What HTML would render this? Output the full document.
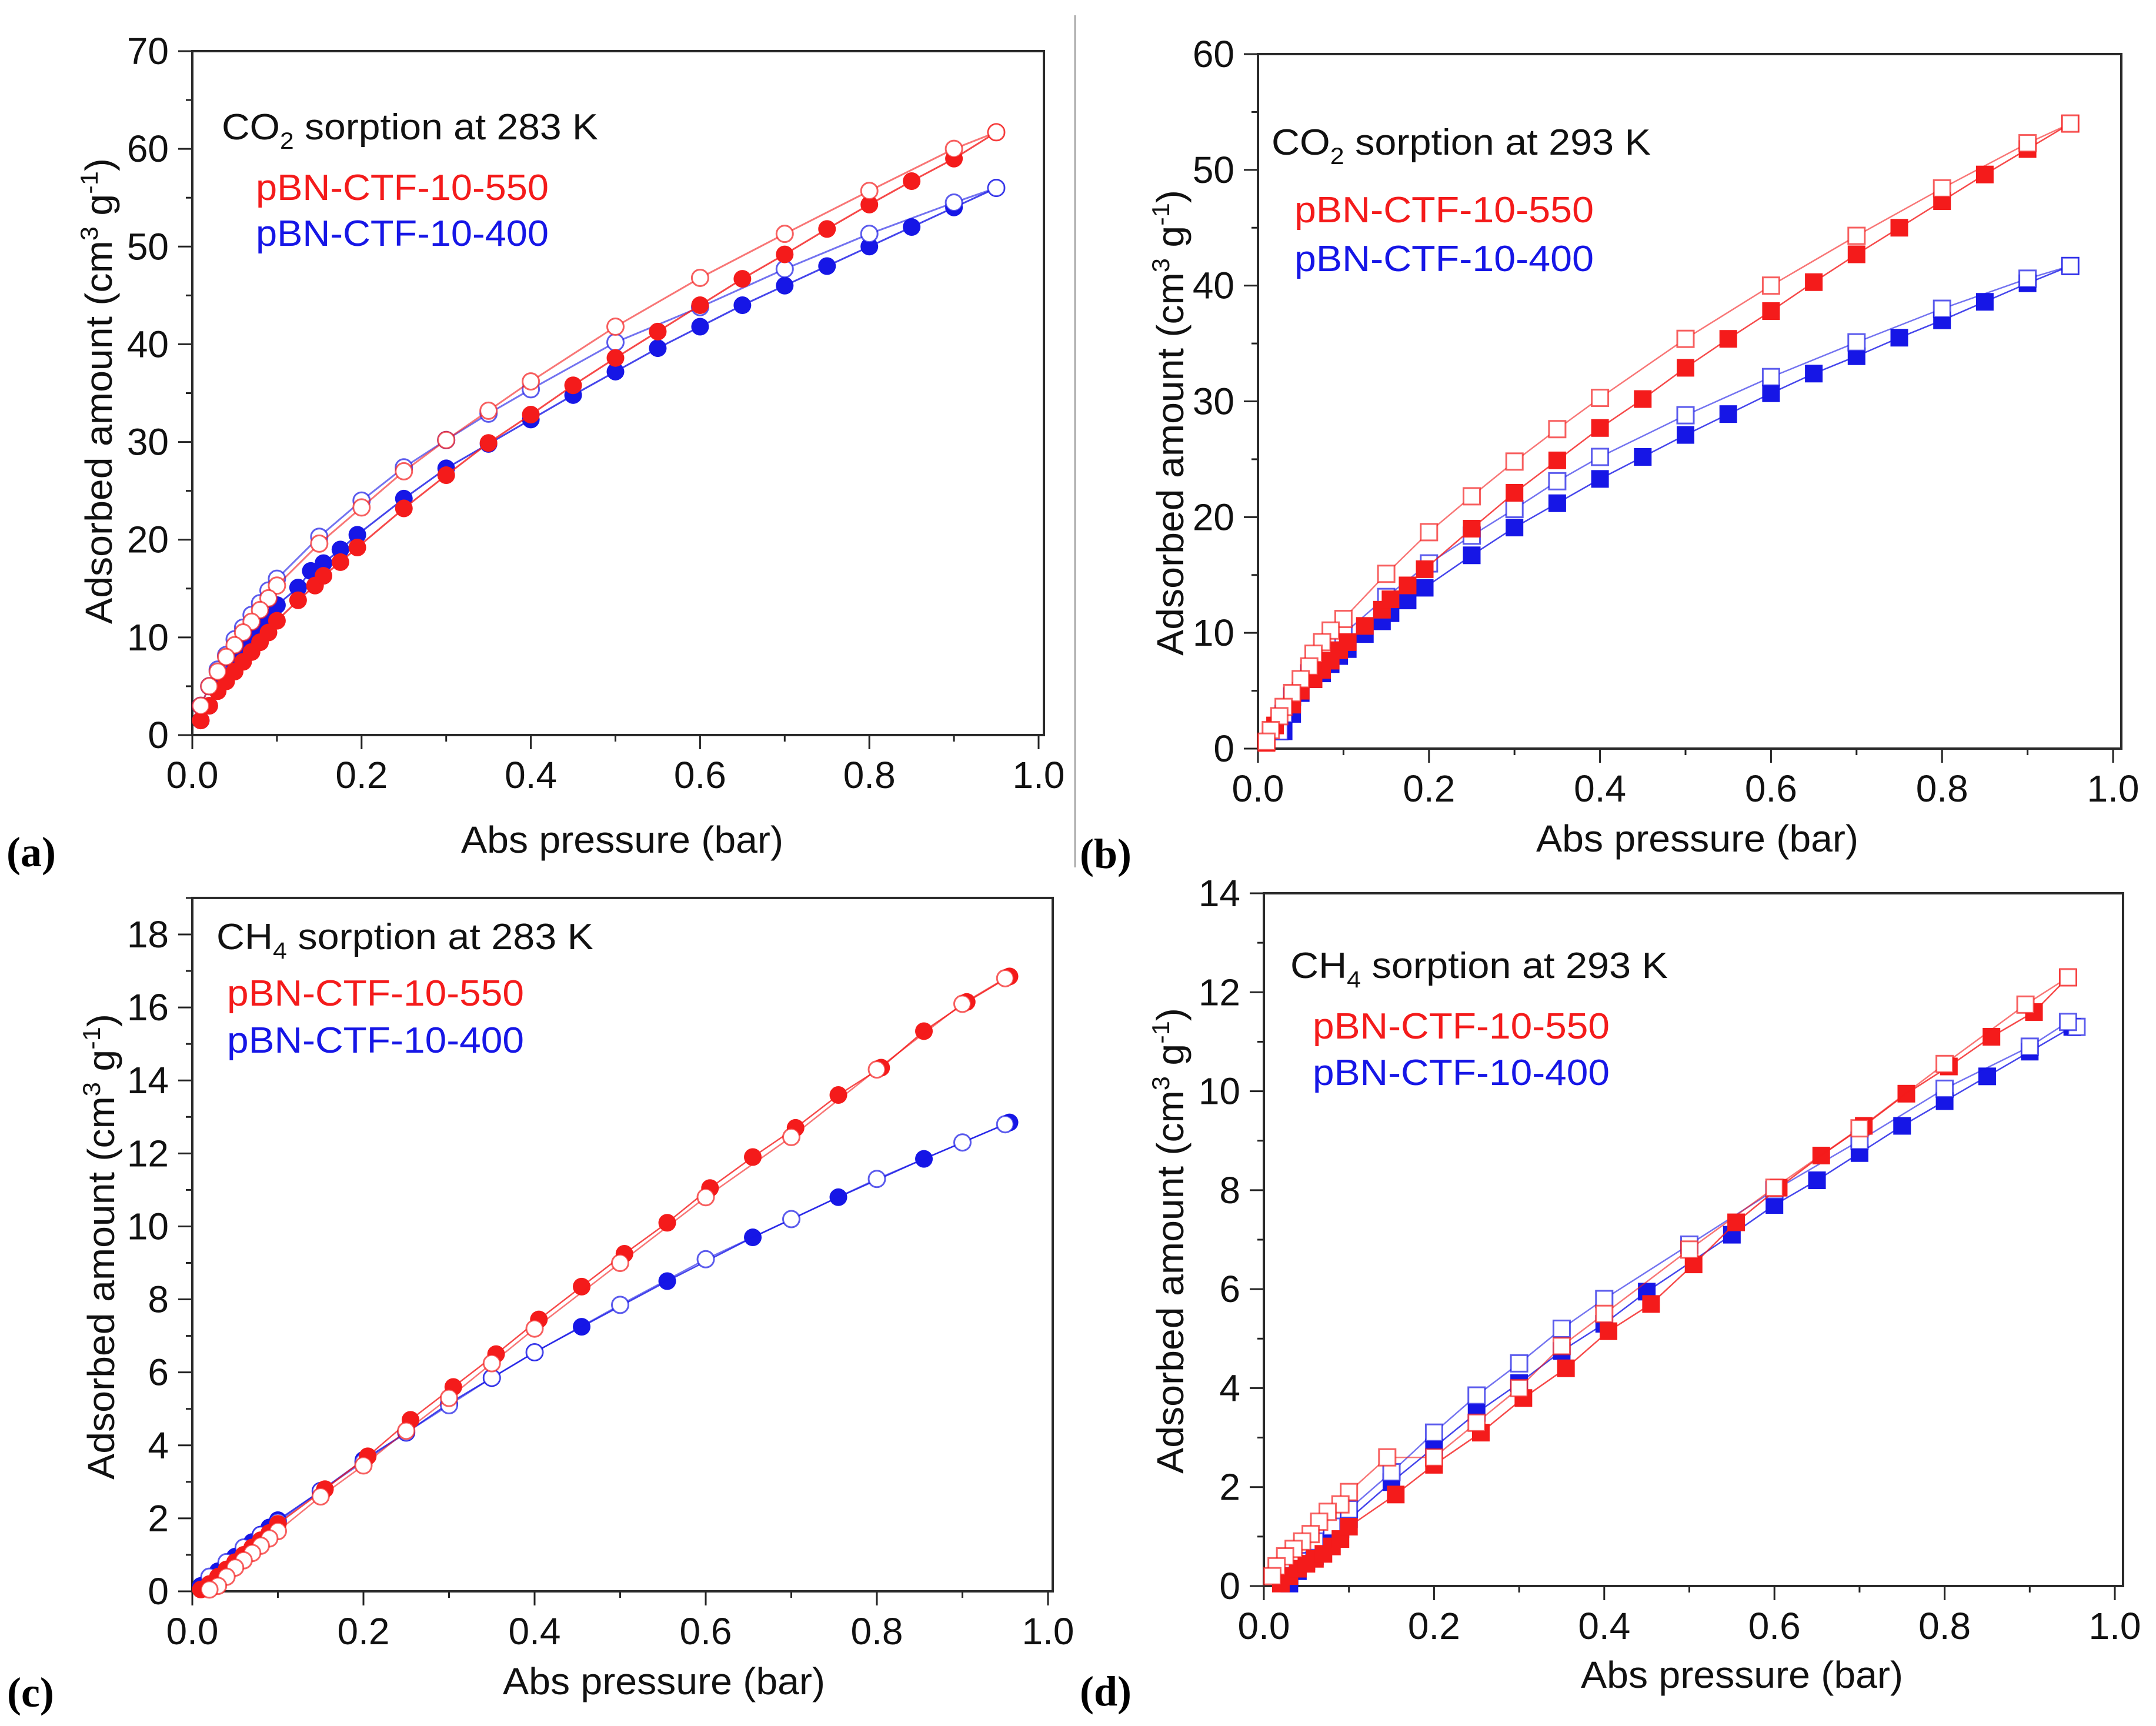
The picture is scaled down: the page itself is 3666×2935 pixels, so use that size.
<!DOCTYPE html>
<html><head><meta charset="utf-8"><style>
html,body{margin:0;padding:0;background:#fff;}
svg{display:block;font-family:"Liberation Sans",Arial,sans-serif;}
</style></head><body>
<svg id="fig" width="3666" height="2935" viewBox="0 0 3666 2935" xmlns="http://www.w3.org/2000/svg">
<rect width="3666" height="2935" fill="#fff"/>
<line x1="1828" y1="26" x2="1828" y2="1475" stroke="#aaa" stroke-width="3"/>
</svg>
<script>
// ---------- Panel (a): CO2 283 K ----------
const aX550ads=[0.01,0.02,0.03,0.04,0.05,0.06,0.07,0.08,0.09,0.1,0.125,0.145,0.155,0.175,0.195,0.25,0.3,0.35,0.4,0.45,0.5,0.55,0.6,0.65,0.7,0.75,0.8,0.85,0.9,0.95];
const aY550ads=[1.5,3,4.5,5.5,6.5,7.5,8.5,9.5,10.5,11.7,13.8,15.3,16.3,17.7,19.2,23.2,26.6,29.9,32.8,35.8,38.6,41.3,44,46.7,49.2,51.8,54.3,56.7,59,61.7];
const aX550des=[0.95,0.9,0.8,0.7,0.6,0.5,0.4,0.35,0.3,0.25,0.2,0.15,0.1,0.09,0.08,0.07,0.06,0.05,0.04,0.03,0.02,0.01];
const aY550des=[61.7,60,55.7,51.3,46.8,41.8,36.2,33.2,30.2,27,23.3,19.6,15.3,14,12.8,11.6,10.5,9.2,8,6.5,5,3];
const aX400ads=[0.01,0.02,0.03,0.04,0.05,0.06,0.07,0.08,0.09,0.1,0.125,0.14,0.155,0.175,0.195,0.25,0.3,0.35,0.4,0.45,0.5,0.55,0.6,0.65,0.7,0.75,0.8,0.85,0.9,0.95];
const aY400ads=[1.5,3,4.8,6,7.3,8.5,9.7,10.8,12,13.3,15.1,16.8,17.6,19,20.5,24.2,27.3,29.8,32.3,34.8,37.2,39.6,41.8,44,46,48,50,52,54,56];
const aX400des=[0.95,0.9,0.8,0.7,0.6,0.5,0.4,0.35,0.3,0.25,0.2,0.15,0.1,0.09,0.08,0.07,0.06,0.05,0.04,0.03,0.02,0.01];
const aY400des=[56,54.5,51.3,47.7,43.8,40.2,35.4,32.9,30.2,27.4,24,20.3,16,14.8,13.5,12.3,11,9.8,8.2,6.7,5,3];
const aYTicks=[0,10,20,30,40,50,60,70];
// ---------- Panel (b): CO2 293 K ----------
const bX550ads=[0.01,0.02,0.04,0.05,0.065,0.075,0.085,0.095,0.105,0.125,0.145,0.155,0.175,0.195,0.25,0.3,0.35,0.4,0.45,0.5,0.55,0.6,0.65,0.7,0.75,0.8,0.85,0.9,0.95];
const bY550ads=[0.5,2,3.8,5,6,6.8,7.6,8.5,9.2,10.6,12,12.9,14.1,15.5,19,22.1,24.9,27.7,30.2,32.9,35.4,37.8,40.3,42.7,45,47.3,49.6,51.8,54];
const bX550des=[0.95,0.9,0.8,0.7,0.6,0.5,0.4,0.35,0.3,0.25,0.2,0.15,0.1,0.085,0.075,0.065,0.06,0.05,0.04,0.03,0.025,0.015,0.01];
const bY550des=[54,52.3,48.4,44.3,40,35.4,30.3,27.6,24.8,21.8,18.7,15.1,11.2,10.2,9.2,8.2,7.1,6,4.8,3.6,2.8,1.6,0.6];
const bX400ads=[0.03,0.04,0.05,0.065,0.075,0.085,0.095,0.105,0.125,0.145,0.155,0.175,0.195,0.25,0.3,0.35,0.4,0.45,0.5,0.55,0.6,0.65,0.7,0.75,0.8,0.85,0.9,0.95];
const bY400ads=[1.5,3,4.8,6,6.5,7.3,8,8.6,9.9,11,11.7,12.8,13.9,16.7,19.1,21.2,23.3,25.2,27.1,28.9,30.7,32.4,33.9,35.5,37,38.6,40.2,41.7];
const bX400des=[0.95,0.9,0.8,0.7,0.6,0.5,0.4,0.35,0.3,0.25,0.2,0.15,0.1,0.08,0.06,0.04,0.03,0.025];
const bY400des=[41.7,40.6,38,35.1,32.1,28.8,25.2,23.1,20.7,18.4,16,13.1,9.9,8,6.5,4.5,3,1.5];
const bYTicks=[0,10,20,30,40,50,60];
// ---------- Panel (c): CH4 283 K ----------
const cX550ads=[0.01,0.02,0.03,0.04,0.05,0.06,0.07,0.08,0.09,0.1,0.155,0.205,0.255,0.305,0.355,0.405,0.455,0.505,0.555,0.605,0.655,0.705,0.755,0.805,0.855,0.905,0.955];
const cY550ads=[0.05,0.2,0.4,0.6,0.8,1.0,1.2,1.4,1.6,1.85,2.8,3.7,4.7,5.6,6.5,7.45,8.35,9.25,10.1,11.05,11.9,12.7,13.6,14.35,15.35,16.15,16.85];
const cX550des=[0.95,0.9,0.8,0.7,0.6,0.5,0.4,0.35,0.3,0.25,0.2,0.15,0.1,0.09,0.08,0.07,0.06,0.05,0.04,0.03,0.02];
const cY550des=[16.8,16.1,14.3,12.45,10.8,9.0,7.2,6.25,5.3,4.4,3.45,2.6,1.65,1.45,1.25,1.05,0.85,0.65,0.4,0.15,0.05];
const cX400ads=[0.01,0.02,0.03,0.04,0.05,0.06,0.07,0.08,0.09,0.1,0.15,0.2,0.25,0.3,0.35,0.4,0.455,0.555,0.655,0.755,0.855,0.955];
const cY400ads=[0.15,0.35,0.55,0.75,0.95,1.15,1.35,1.55,1.75,1.95,2.75,3.6,4.35,5.15,5.85,6.55,7.25,8.5,9.7,10.8,11.85,12.85];
const cX400des=[0.95,0.9,0.8,0.7,0.6,0.5,0.4,0.35,0.3,0.25,0.2,0.15,0.1,0.08,0.06,0.04,0.02];
const cY400des=[12.8,12.3,11.3,10.2,9.1,7.85,6.55,5.85,5.1,4.35,3.55,2.75,1.9,1.55,1.2,0.8,0.4];
const cYTicks=[0,2,4,6,8,10,12,14,16,18];
// ---------- Panel (d): CH4 293 K ----------
const dX550ads=[0.02,0.03,0.04,0.05,0.06,0.07,0.08,0.09,0.1,0.155,0.2,0.255,0.305,0.355,0.405,0.455,0.505,0.555,0.605,0.655,0.705,0.755,0.805,0.855,0.905,0.945];
const dY550ads=[0.05,0.2,0.35,0.45,0.55,0.65,0.8,0.95,1.2,1.85,2.45,3.1,3.8,4.4,5.15,5.7,6.5,7.35,8.05,8.7,9.3,9.95,10.5,11.1,11.6,12.3];
const dX550des=[0.945,0.895,0.8,0.7,0.6,0.5,0.4,0.35,0.3,0.25,0.2,0.145,0.1,0.09,0.075,0.065,0.055,0.045,0.035,0.025,0.015,0.01];
const dY550des=[12.3,11.75,10.55,9.25,8.05,6.8,5.5,4.85,4.0,3.3,2.6,2.6,1.9,1.65,1.5,1.3,1.05,0.9,0.75,0.6,0.4,0.2];
const dX400ads=[0.03,0.04,0.05,0.06,0.07,0.08,0.09,0.1,0.15,0.2,0.25,0.3,0.35,0.4,0.45,0.55,0.6,0.65,0.7,0.75,0.8,0.85,0.9,0.95];
const dY400ads=[0.05,0.3,0.5,0.6,0.8,1.0,1.15,1.35,2.1,2.8,3.5,4.1,4.75,5.3,5.95,7.1,7.7,8.2,8.75,9.3,9.8,10.3,10.8,11.3];
const dX400des=[0.955,0.945,0.9,0.8,0.7,0.6,0.5,0.4,0.35,0.3,0.25,0.2,0.15,0.1,0.08,0.06,0.04,0.03];
const dY400des=[11.3,11.4,10.9,10.05,9.0,8.0,6.9,5.8,5.2,4.5,3.85,3.1,2.3,1.55,1.2,0.9,0.5,0.2];
const dYTicks=[0,2,4,6,8,10,12,14];
const xTicks=[0,0.2,0.4,0.6,0.8,1.0];
const xTickLabels=["0.0","0.2","0.4","0.6","0.8","1.0"];

const NS="http://www.w3.org/2000/svg";
const svg=document.getElementById('fig');
const RED="#f41b1b", BLUE="#1616e6";
function mk(tag,attrs,parent){const e=document.createElementNS(NS,tag);for(const k in attrs)e.setAttribute(k,attrs[k]);(parent||svg).appendChild(e);return e;}

function panel(cfg){
  const g=mk('g',{});
  
  
  const sx=v=>cfg.x0+(cfg.x1-cfg.x0)*v;
  const sy=v=>cfg.y0-(cfg.y0-cfg.yt)*(v/cfg.ymaxTick);
  const top=sy(cfg.ymax);
  for(let i=0;i<=10;i++){
    const v=i/10, X=sx(v), maj=i%2===0;
    const t=mk('line',{x1:X,y1:cfg.y0,x2:X,y2:cfg.y0+(maj?24:11),stroke:'#222','stroke-width':3},g);
    
    
  }
  xTicks.forEach((v,i)=>{
    const t=mk('text',{x:sx(v),y:cfg.y0+90,'font-size':64,'text-anchor':'middle',fill:'#111'},g);
    t.textContent=xTickLabels[i];
    
    
  });
  const minorStep=cfg.ticks[1]/2;
  for(let v=0;v<=cfg.ymax+1e-9;v+=minorStep){
    const Y=sy(v); const maj=Math.abs(v/cfg.ticks[1]-Math.round(v/cfg.ticks[1]))<1e-6;
    const t=mk('line',{x1:cfg.x0,y1:Y,x2:cfg.x0-(maj?24:11),y2:Y,stroke:'#222','stroke-width':3},g);
    
    
  }
  cfg.ticks.forEach(v=>{
    const t=mk('text',{x:cfg.x0-40,y:sy(v)+22,'font-size':64,'text-anchor':'end',fill:'#111'},g);
    t.textContent=String(v);
    
    
  });
  const box=mk('rect',{x:cfg.x0,y:top,width:cfg.xr-cfg.x0,height:cfg.y0-top,fill:'none',stroke:'#2a2a2a','stroke-width':4},g);
  
  
  cfg.series.forEach(s=>{
    const sg=mk('g',{},g);
    
    
    const pts=s.xs.map((x,i)=>sx(x).toFixed(1)+','+sy(s.ys[i]).toFixed(1)).join(' ');
    const pl=mk('polyline',{points:pts,fill:'none',stroke:s.color,'stroke-width':cfg.lw,'stroke-opacity':s.open?0.6:0.8},sg);
    
    
    s.xs.forEach((x,i)=>{
      const X=sx(x),Y=sy(s.ys[i]);
      let m;
      if(cfg.marker==='circle'){
        m=mk('circle',{cx:X,cy:Y,r:s.open?14:15,fill:s.open?'#fff':s.color,stroke:s.color,'stroke-width':s.open?3:0,'stroke-opacity':0.7},sg);
      }else{
        const h=s.open?14:15;
        m=mk('rect',{x:X-h,y:Y-h,width:2*h,height:2*h,fill:s.open?'#fff':s.color,stroke:s.color,'stroke-width':s.open?3:0,'stroke-opacity':0.7},sg);
      }
      
      
    });
  });
  const an=mk('text',{x:cfg.ann[0],y:cfg.ann[1],'font-size':62,fill:'#111',textLength:cfg.annLen,lengthAdjust:'spacingAndGlyphs'},g);
  an.innerHTML=cfg.gas+'<tspan font-size="40" dy="16">'+cfg.sub+'</tspan><tspan dy="-16"> sorption at '+cfg.temp+' K</tspan>';
  
  
  const l1=mk('text',{x:cfg.leg[0],y:cfg.leg[1],'font-size':62,fill:RED,textLength:cfg.legLen,lengthAdjust:'spacingAndGlyphs'},g);
  l1.textContent='pBN-CTF-10-550';
  
  
  const l2=mk('text',{x:cfg.leg[0],y:cfg.leg[2],'font-size':62,fill:BLUE,textLength:cfg.legLen,lengthAdjust:'spacingAndGlyphs'},g);
  l2.textContent='pBN-CTF-10-400';
  
  
  const xt=mk('text',{x:cfg.xtitle[0],y:cfg.xtitle[1],'font-size':64,'text-anchor':'middle',fill:'#111',textLength:548,lengthAdjust:'spacingAndGlyphs'},g);
  xt.textContent='Abs pressure (bar)';
  
  
  const yt=mk('text',{x:0,y:0,'font-size':64,'text-anchor':'middle',fill:'#111',transform:`translate(${cfg.ytitle[0]},${cfg.ytitle[1]}) rotate(-90)`,textLength:792,lengthAdjust:'spacingAndGlyphs'},g);
  yt.innerHTML='Adsorbed amount (cm<tspan font-size="42" dy="-24">3</tspan><tspan dy="24"> g</tspan><tspan font-size="42" dy="-24">-1</tspan><tspan dy="24">)</tspan>';
  
  
  const pl=mk('text',{x:cfg.plab[0],y:cfg.plab[1],'font-size':72,'font-weight':'bold','font-family':'"Liberation Serif",serif',fill:'#000'},g);
  pl.textContent=cfg.plabel;
  
  
}

panel({name:'panel-a-co2-283k',x0:327,x1:1766,xr:1775,y0:1250,yt:87,ymaxTick:70,ymax:70,ticks:aYTicks,marker:'circle',lw:3,
  series:[{name:'series-400-ads',xs:aX400ads,ys:aY400ads,color:BLUE},{name:'series-400-des',xs:aX400des,ys:aY400des,color:BLUE,open:true},
          {name:'series-550-ads',xs:aX550ads,ys:aY550ads,color:RED},{name:'series-550-des',xs:aX550des,ys:aY550des,color:RED,open:true}],
  gas:'CO',sub:'2',temp:'283',ann:[377,237],annLen:640,leg:[435,340,418],legLen:498,xtitle:[1058,1450],ytitle:[190,665],plab:[11,1473],plabel:'(a)'});
panel({name:'panel-b-co2-293k',x0:2139,x1:3593,xr:3607,y0:1273,yt:92,ymaxTick:60,ymax:60,ticks:bYTicks,marker:'square',lw:2.5,
  series:[{name:'series-400-ads',xs:bX400ads,ys:bY400ads,color:BLUE},{name:'series-400-des',xs:bX400des,ys:bY400des,color:BLUE,open:true},
          {name:'series-550-ads',xs:bX550ads,ys:bY550ads,color:RED},{name:'series-550-des',xs:bX550des,ys:bY550des,color:RED,open:true}],
  gas:'CO',sub:'2',temp:'293',ann:[2162,263],annLen:645,leg:[2201,378,461],legLen:509,xtitle:[2886,1448],ytitle:[2012,719],plab:[1836,1476],plabel:'(b)'});
panel({name:'panel-c-ch4-283k',x0:327,x1:1782,xr:1790,y0:2706,yt:1589,ymaxTick:18,ymax:19,ticks:cYTicks,marker:'circle',lw:2.5,
  series:[{name:'series-400-ads',xs:cX400ads,ys:cY400ads,color:BLUE},{name:'series-400-des',xs:cX400des,ys:cY400des,color:BLUE,open:true},
          {name:'series-550-ads',xs:cX550ads,ys:cY550ads,color:RED},{name:'series-550-des',xs:cX550des,ys:cY550des,color:RED,open:true}],
  gas:'CH',sub:'4',temp:'283',ann:[368,1614],annLen:641,leg:[386,1710,1790],legLen:505,xtitle:[1129,2881],ytitle:[194,2120],plab:[12,2902],plabel:'(c)'});
panel({name:'panel-d-ch4-293k',x0:2149,x1:3596,xr:3610,y0:2697,yt:1519,ymaxTick:14,ymax:14,ticks:dYTicks,marker:'square',lw:2.5,
  series:[{name:'series-400-ads',xs:dX400ads,ys:dY400ads,color:BLUE},{name:'series-400-des',xs:dX400des,ys:dY400des,color:BLUE,open:true},
          {name:'series-550-ads',xs:dX550ads,ys:dY550ads,color:RED},{name:'series-550-des',xs:dX550des,ys:dY550des,color:RED,open:true}],
  gas:'CH',sub:'4',temp:'293',ann:[2194,1663],annLen:642,leg:[2232,1766,1845],legLen:505,xtitle:[2962,2870],ytitle:[2012,2110],plab:[1836,2900],plabel:'(d)'});
</script>
</body></html>
